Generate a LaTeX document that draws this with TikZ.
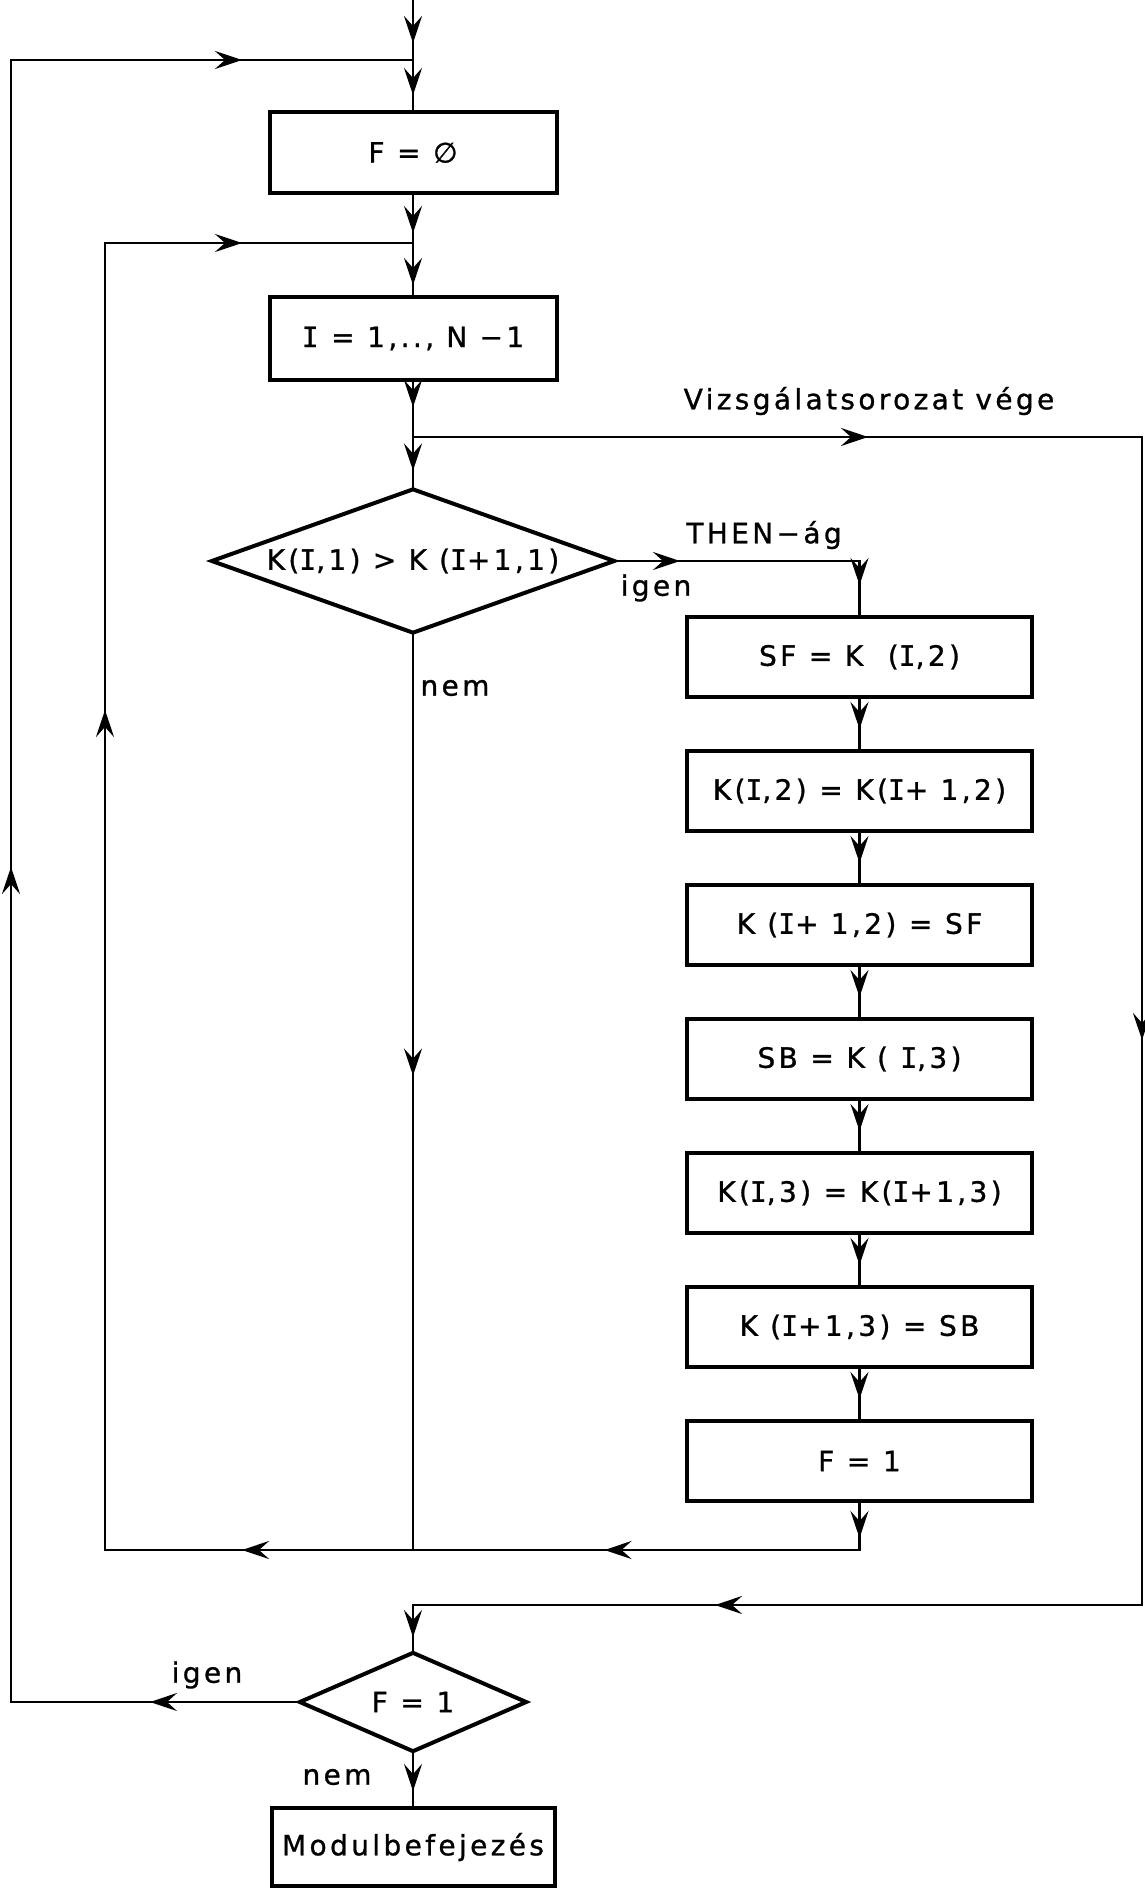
\documentclass[tikz,border=0pt]{standalone}
\usepackage{fontspec}
\setmainfont{DejaVu Sans}[LetterSpace=12,FakeBold=1]
\newfontfamily\serifI{DejaVu Sans Mono}[FakeBold=1]
\usetikzlibrary{shapes.geometric,decorations.markings,arrows.meta}
\newcommand\Ii{{\serifI I}}
\newcommand\Eq{\hspace{0.45em}=\hspace{0.45em}}
\tikzset{
  box/.style={draw, line width=2pt, minimum width=#1, minimum height=40pt, inner sep=0pt},
  dia/.style={diamond, draw, line width=2pt, inner sep=0pt},
  conn/.style={line width=1.4pt, line cap=rect},
  am/.style={conn, postaction={decorate}, decoration={markings,
      mark=at position #1 with {\arrow{Stealth[length=13.5pt,width=9pt,inset=5pt]}}}},
  lab/.style={inner sep=0pt}
}
\begin{document}
\begin{tikzpicture}[x=0.5pt,y=-0.5pt,font=\fontsize{14}{16}\selectfont]
\useasboundingbox (0,0) rectangle (1145,1889);
% main column
\node[box=143.5pt, minimum height=40.5pt] (F) at (413,152.5) {F\Eq∅};
\node[box=143.5pt, minimum height=41.5pt] (I) at (413,338.5) {\Ii{}\Eq1,.., N −1};
\node[dia, aspect=2.8, minimum width=202pt, minimum height=72.5pt] (D1) at (413,561) {K(\Ii,1) > K (\Ii+1,1)};
% right column
\node[box=172.5pt] (r1) at (859.5,657) {SF\Eq K\ \ (\Ii,2)};
\node[box=172.5pt] (r2) at (859.5,791) {K(\Ii,2)\Eq K(\Ii+ 1,2)};
\node[box=172.5pt] (r3) at (859.5,925) {K (\Ii+ 1,2)\Eq SF};
\node[box=172.5pt] (r4) at (859.5,1059) {SB\Eq K ( \Ii,3)};
\node[box=172.5pt] (r5) at (859.5,1193) {K(\Ii,3)\Eq K(\Ii+1,3)};
\node[box=172.5pt] (r6) at (859.5,1327) {K (\Ii+1,3)\Eq SB};
\node[box=172.5pt] (r7) at (859.5,1461) {F\Eq 1};
% bottom
\node[dia, aspect=2.28, minimum width=114pt, minimum height=50pt] (D2) at (413,1702) {F\Eq 1};
\node[box=141.5pt, minimum height=39pt] (M) at (413,1847) {Modulbefejezés};
% labels
\node[lab] (lv) at (869,401) {Vizsgálatsorozat vége};
\node[lab] (lthen) at (764,535) {THEN−ág};
\node[lab] (ligen1) at (656,588) {igen};
\node[lab] (lnem1) at (455,688) {nem};
\node[lab] (ligen2) at (207,1675) {igen};
\node[lab] (lnem2) at (337,1777) {nem};
% coordinates
\coordinate (top) at (413,0);
\coordinate (j1) at (413,60);
\coordinate (j2) at (413,243);
\coordinate (j3) at (413,437);
\coordinate (l1) at (11,60);
\coordinate (l1b) at (11,1702);
\coordinate (l2) at (105,243);
\coordinate (l2b) at (105,1550);
\coordinate (rt) at (1142,437);
\coordinate (rbb) at (1142,1605);
\coordinate (mbb) at (413,1605);
\coordinate (c1) at (859.5,561);
\coordinate (rb) at (859.5,1550);
\coordinate (mb) at (413,1550);
% main column connectors
\draw[am=-8.5pt] (top) -- (j1);
\draw[am=-7.5pt] (j1) -- (F.north);
\draw[am=-5pt] (F.south) -- (j2);
\draw[am=-5pt] (j2) -- (I.north);
\draw[am=-15pt] (I.south) -- (j3);
\draw[am=-8pt] (j3) -- (D1.north);
% loops
\draw[am=115.5pt] (l1) -- (j1);
\draw[am=68.5pt] (l2) -- (j2);
\draw[am=227.5pt] (j3) -- (rt);
\draw[am=301.5pt] (rt) -- (rbb);
\draw[am=213.5pt] (rbb) -- (mbb);
\draw[am=-6.5pt] (mbb) -- (D2.north);
% THEN branch
\draw[am=31.5pt] (D1.east) -- (c1);
\draw[am=-15pt] (c1) -- (r1.north);
\draw[am=-10pt] (r1.south) -- (r2.north);
\draw[am=-10pt] (r2.south) -- (r3.north);
\draw[am=-10pt] (r3.south) -- (r4.north);
\draw[am=-10pt] (r4.south) -- (r5.north);
\draw[am=-10pt] (r5.south) -- (r6.north);
\draw[am=-10pt] (r6.south) -- (r7.north);
\draw[am=-6pt] (r7.south) -- (rb);
\draw[am=127.5pt] (rb) -- (mb);
\draw[am=85.5pt] (mb) -- (l2b);
\draw[am=420pt] (l2b) -- (l2);
% nem branch
\draw[am=220pt] (D1.south) -- (mb);
% F=1 decision
\draw[am=73.5pt] (D2.west) -- (l1b);
\draw[am=417.5pt] (l1b) -- (l1);
\draw[am=-7.5pt] (D2.south) -- (M.north);
\end{tikzpicture}
\end{document}
